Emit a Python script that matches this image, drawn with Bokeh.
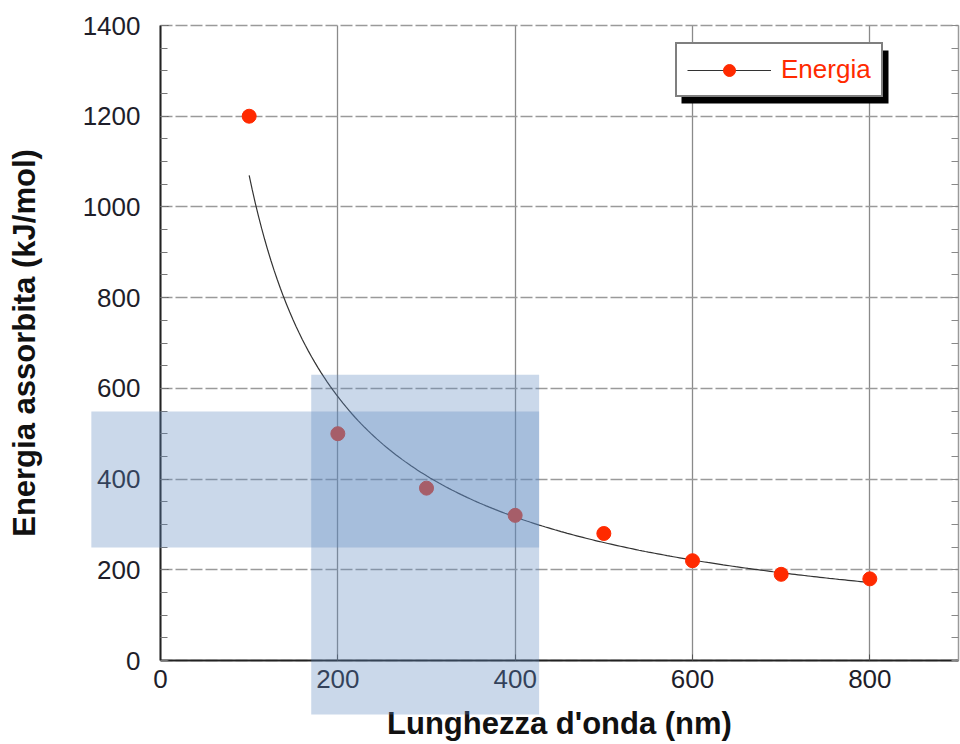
import numpy as np
from bokeh.plotting import figure
from bokeh.models import (BoxAnnotation, Legend, LegendItem, LinearAxis, Grid,
                          SingleIntervalTicker, FixedTicker, Range1d, ColumnDataSource)
from bokeh.embed import file_html
from bokeh.resources import INLINE

# Wavelength (nm) and absorbed energy (kJ/mol)
wavelength = [100, 200, 300, 400, 500, 600, 700, 800]
energy = [1200, 500, 380, 320, 280, 220, 190, 180]

# Highlighted regions (data units); they reach past the axes
band_h = dict(left=-78, right=427, bottom=249, top=549)
band_v = dict(left=170, right=427, bottom=-119, top=630)

FONT = "Liberation Sans"
RED = "#ff2a00"

# Axes box inside the canvas (pixels) and its data limits
W, H = 960, 744
BOX_L, BOX_R, BOX_T, BOX_B = 160, 958, 25, 660
X_LO, X_HI = 0, 900
Y_LO, Y_HI = 0, 1400

# The frame spans the whole canvas so that the highlight bands can extend
# into the label areas; the axes sit at fixed data locations.
kx = (X_HI - X_LO) / (BOX_R - BOX_L)
ky = (Y_HI - Y_LO) / (BOX_B - BOX_T)
x_range = Range1d(X_LO - BOX_L * kx, X_HI + (W - BOX_R) * kx)
y_range = Range1d(Y_LO - (H - BOX_B) * ky, Y_HI + BOX_T * ky)

# Power-law trend line fitted in log-log space
slope, icpt = np.polyfit(np.log(wavelength), np.log(energy), 1)
fit_x = np.linspace(min(wavelength), max(wavelength), 200)
fit_y = np.exp(icpt) * fit_x ** slope

p = figure(width=W, height=H, x_range=x_range, y_range=y_range,
           x_axis_type=None, y_axis_type=None,
           output_backend="svg", toolbar_location=None, min_border=0,
           background_fill_color="white", border_fill_color="white")
p.outline_line_color = None

xticker = SingleIntervalTicker(interval=200, num_minor_ticks=0)
yticker = SingleIntervalTicker(interval=200, num_minor_ticks=4)

xax = LinearAxis(ticker=xticker, fixed_location=0, bounds=(X_LO, X_HI),
                 axis_label="Lunghezza d'onda (nm)",
                 axis_line_width=2, axis_line_color="#222222",
                 major_tick_in=6, major_tick_out=0, major_tick_line_color="#555555",
                 minor_tick_line_color=None,
                 major_label_standoff=9, axis_label_standoff=15)
yax = LinearAxis(ticker=yticker, fixed_location=0, bounds=(Y_LO, Y_HI),
                 axis_label="Energia assorbita (kJ/mol)",
                 axis_line_width=2, axis_line_color="#222222",
                 major_tick_in=8, major_tick_out=0, minor_tick_in=7, minor_tick_out=0,
                 major_tick_line_color="#555555", minor_tick_line_color="#777777",
                 major_label_standoff=20, axis_label_standoff=38)
for ax in (xax, yax):
    ax.major_label_text_font = FONT
    ax.major_label_text_font_size = "26px"
    ax.major_label_text_color = "#1e1e2a"
    ax.axis_label_text_font = FONT
    ax.axis_label_text_font_size = "31px"
    ax.axis_label_text_font_style = "bold"
    ax.axis_label_text_color = "#111111"
p.add_layout(xax, "below")
p.add_layout(yax, "left")

# right-hand frame edge: inward minor ticks only, no labels
rax = LinearAxis(ticker=FixedTicker(ticks=[], minor_ticks=list(range(Y_LO, Y_HI + 1, 50))),
                 fixed_location=X_HI, bounds=(Y_LO, Y_HI),
                 axis_line_color="#9a9a9a", axis_line_width=1.5,
                 minor_tick_in=7, minor_tick_out=0, minor_tick_line_color="#888888")
p.add_layout(rax, "right")

# grid: solid vertical lines, dashed horizontal lines (top one closes the box)
p.add_layout(Grid(dimension=0, ticker=xticker, bounds=(X_LO, X_HI), cross_bounds=(Y_LO, Y_HI),
                  grid_line_color="#8a8a8a", grid_line_width=1.3))
p.add_layout(Grid(dimension=1, ticker=yticker, bounds=(Y_LO, Y_HI), cross_bounds=(X_LO, X_HI),
                  grid_line_color="#9a9a9a", grid_line_width=1.5, grid_line_dash="12 3"))

curve = p.line(fit_x, fit_y, line_color="#333333", line_width=1.2)
src = ColumnDataSource(dict(x=wavelength, y=energy))
pts = p.scatter("x", "y", source=src, size=14, fill_color=RED, line_color=RED)

# translucent highlight bands
for b in (band_h, band_v):
    p.add_layout(BoxAnnotation(**b, fill_color="#5d8ac0", fill_alpha=0.33, line_color=None))

# legend with drop shadow (screen units from the canvas bottom-left)
shadow = BoxAnnotation(left=681, right=888, bottom=641, top=694,
                       left_units="screen", right_units="screen",
                       bottom_units="screen", top_units="screen",
                       fill_color="black", fill_alpha=1, line_color=None)
p.add_layout(shadow)

legend = Legend(items=[LegendItem(label="Energia", renderers=[curve, pts])],
                location=(675, 647), border_line_color="black", border_line_width=2,
                background_fill_color="white", background_fill_alpha=1,
                label_text_color=RED, label_text_font=FONT, label_text_font_size="26px",
                glyph_width=84, glyph_height=30, label_height=22,
                padding=10, label_standoff=10, margin=0)
p.add_layout(legend)

open("out.html", "w").write(file_html(p, INLINE))
